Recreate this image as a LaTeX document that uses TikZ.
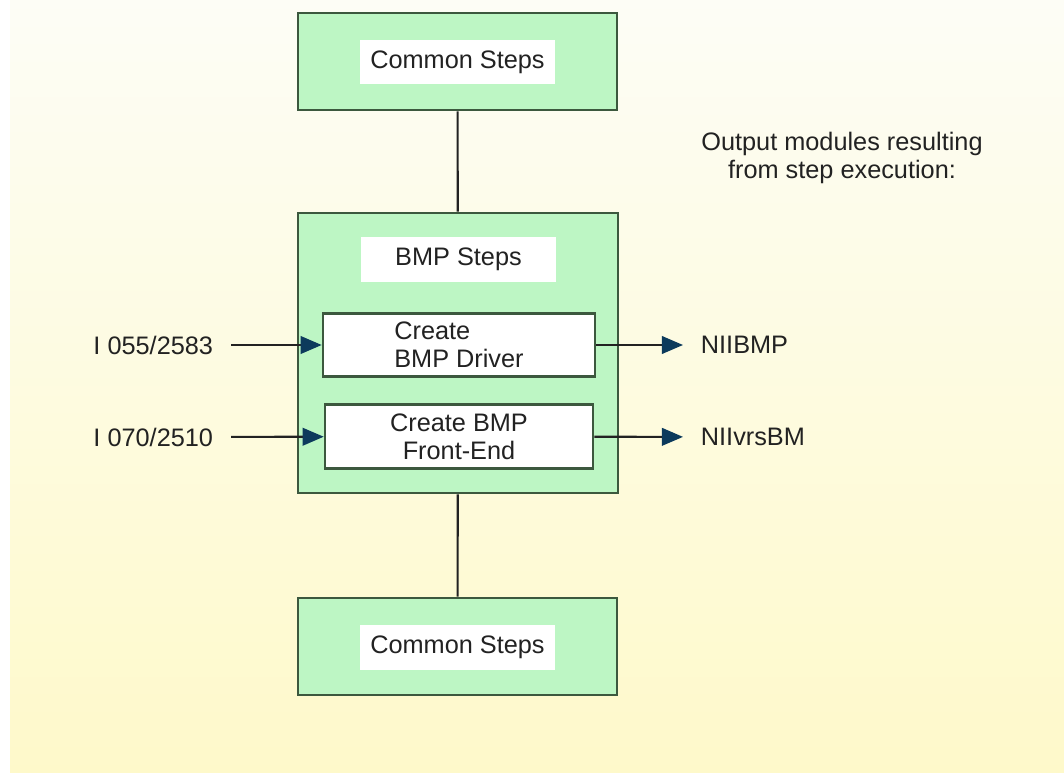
\documentclass[tikz,border=0pt]{standalone}
\usepackage{tikz}
\usepackage{xcolor}
\usepackage{fontspec}
\setmainfont{Liberation Sans}
\usetikzlibrary{arrows.meta}

\definecolor{paletop}{RGB}{253,253,246}
\definecolor{palebottom}{RGB}{254,249,202}
\definecolor{stagegreen}{RGB}{189,246,196}
\definecolor{stageedge}{RGB}{60,88,62}
\definecolor{tipblue}{RGB}{12,58,92}
\definecolor{inkgray}{RGB}{34,34,34}

\tikzset{
  stagebox/.style={draw=stageedge, line width=1.6pt, fill=stagegreen,
    minimum width=6.38cm, minimum height=1.94cm},
  labelbox/.style={fill=white, minimum width=3.9cm, minimum height=0.9cm,
    text=inkgray},
  stepbox/.style={draw=stageedge, line width=1.5pt, fill=white,
    minimum width=5.4cm, minimum height=1.27cm, text=inkgray},
  iolabel/.style={text=inkgray, inner xsep=10pt},
  flow/.style={draw=inkgray, line width=1.2pt,
    -{Triangle[color=tipblue, length=12pt, width=10pt]}}
}

\begin{document}
\begin{tikzpicture}[x=0.02cm, y=-0.02cm, font=\fontsize{14.4}{16}\selectfont]
  % Background
  \useasboundingbox (0,0) rectangle (1064,773);
  \fill[white] (0,0) rectangle (1064,773);
  \shade[top color=paletop, bottom color=palebottom] (10,0) rectangle (1064,773);

  % Stages
  \node[stagebox] (commontop) at (457.5,61.5) {};
  \node[labelbox] (commontoplabel) at (457.5,62) {Common Steps};

  \node[stagebox, minimum width=6.4cm, minimum height=5.6cm] (bmp) at (458,353) {};
  \node[labelbox] (bmplabel) at (458.5,259.5) {BMP Steps};

  \node[stagebox] (commonbottom) at (457.5,646.5) {};
  \node[labelbox] (commonbottomlabel) at (457.5,647.5) {Common Steps};

  % Steps inside BMP
  \node[stepbox, minimum width=5.44cm, align=left] (driver) at (459,345) {Create\\BMP Driver};
  \node[stepbox, minimum width=5.36cm, align=center] (frontend) at (459,436.5) {Create BMP\\Front-End};

  % Inputs and outputs
  \node[iolabel, anchor=east] (inA) at (231,345) {I 055/2583};
  \node[iolabel, anchor=east] (inB) at (231,437) {I 070/2510};
  \node[iolabel, anchor=west] (outA) at (683,345) {NIIBMP};
  \node[iolabel, anchor=west] (outB) at (683,437) {NIIvrsBM};

  \node[text=inkgray, align=center] (outnote) at (842,158)
    {Output modules resulting\\ from step execution:};

  % Connectors
  \draw[inkgray, line width=1.2pt] (commontop) -- (bmp);
  \draw[inkgray, line width=1.2pt] (bmp) -- (commonbottom);

  \draw[flow] (inA) -- (driver);
  \draw[flow] (inB) -- (frontend);
  \draw[flow] (driver) -- (outA);
  \draw[flow] (frontend) -- (outB);
\end{tikzpicture}
\end{document}
